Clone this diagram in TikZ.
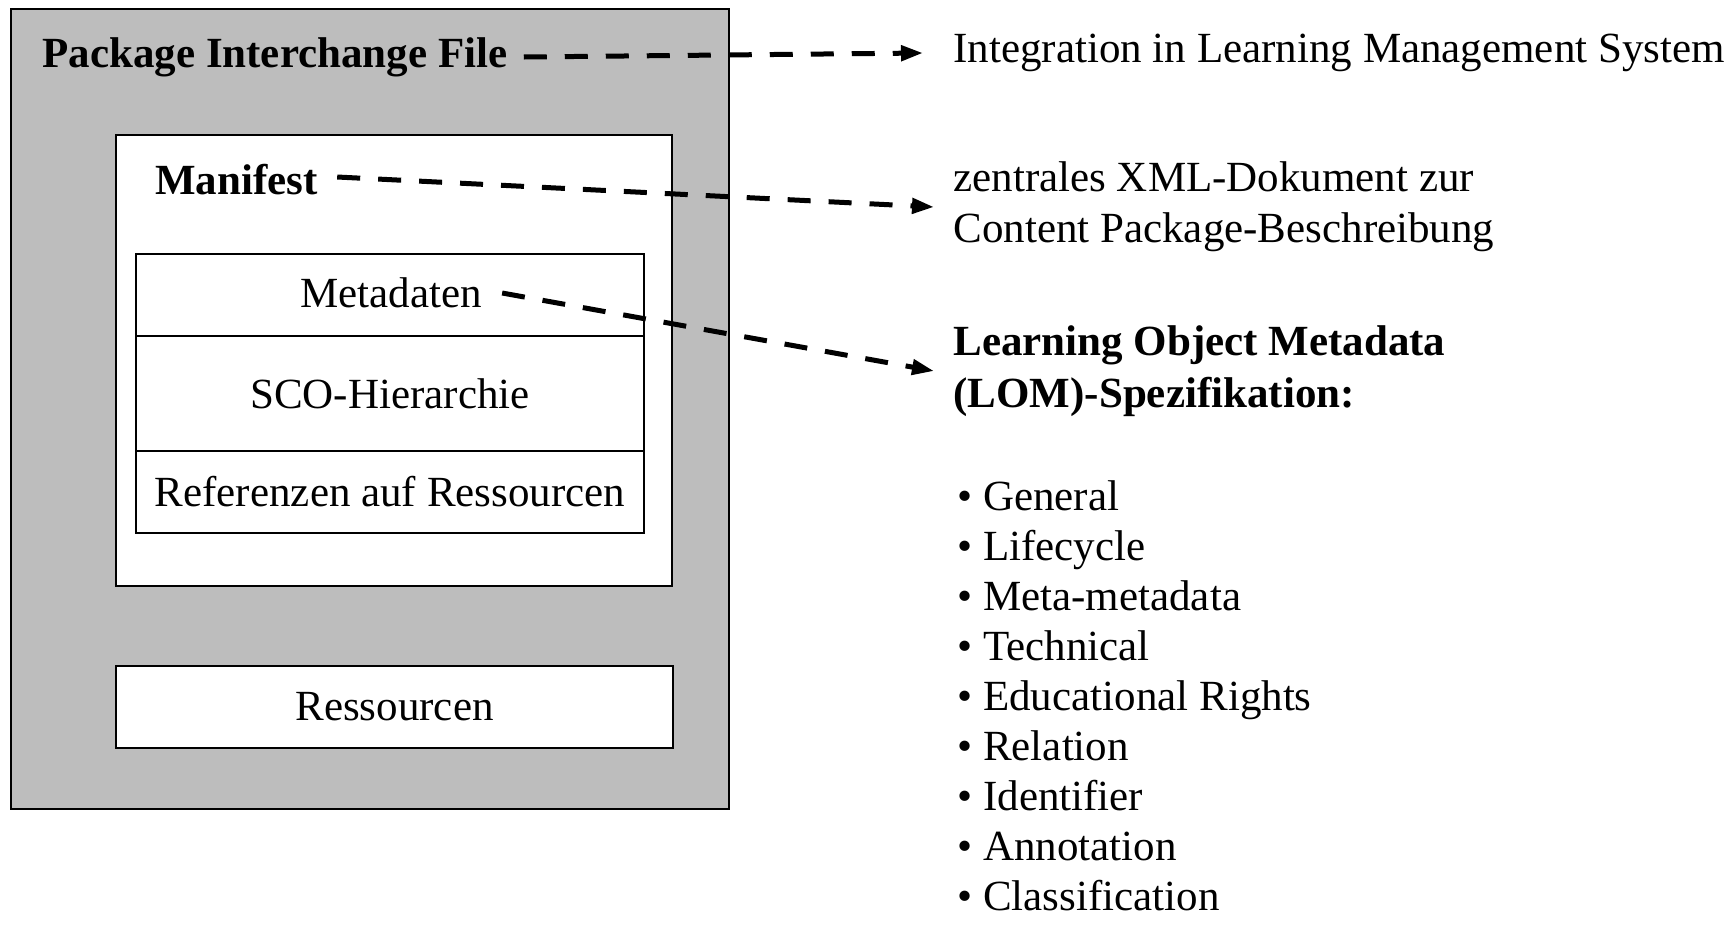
\documentclass[tikz,border=0pt]{standalone}
\usepackage{fontspec}
\setmainfont{Liberation Serif}
\usetikzlibrary{arrows.meta}
\definecolor{bggray}{gray}{0.74}
\tikzset{
  txt/.style={inner sep=0pt, font=\fontsize{21.5}{25.7}\selectfont},
  boxed/.style={draw=black, line width=1pt, fill=white, inner sep=0pt},
  dasharrow/.style={line width=2.5pt, dash pattern=on 11.5pt off 9pt,
    -{Triangle[length=11pt,width=7.5pt]}},
}
\begin{document}
\begin{tikzpicture}[x=0.5pt,y=-0.5pt]
\useasboundingbox (0,0) rectangle (1733,927);
% outer package box
\node[boxed, fill=bggray, minimum width=359pt, minimum height=400pt] (outer) at (370,409) {};
% manifest box
\node[boxed, minimum width=278pt, minimum height=225.5pt] (manbox) at (394,360.5) {};
% table rows
\node[boxed, txt, minimum width=254pt, minimum height=41pt] (meta) at (390,295) {};
\node[boxed, txt, minimum width=254pt, minimum height=57.5pt] (sco) at (390,393.5) {SCO-Hierarchie};
\node[boxed, txt, minimum width=254pt, minimum height=41pt] (refs) at (390,492) {Referenzen auf Ressourcen};
\node[txt] (metatxt) at (391,293) {Metadaten};
% resources box
\node[boxed, txt, minimum width=278.5pt, minimum height=41pt] (res) at (394.5,707) {Ressourcen};
% left labels
\node[txt, anchor=west, font=\fontsize{21.5}{25.7}\selectfont\bfseries] (pif) at (42,57) {Package Interchange File};
\node[txt, anchor=west, font=\fontsize{21.5}{25.7}\selectfont\bfseries] (manifest) at (155,180) {Manifest};
% right labels
\node[txt, anchor=west] (integ) at (953,53) {Integration in Learning Management System};
\node[txt, anchor=west, align=left] (zentral) at (953,207) {zentrales XML-Dokument zur\\Content Package-Beschreibung};
\node[txt, anchor=west, align=left, font=\fontsize{21.5}{25.7}\selectfont\bfseries] (lom) at (953,371) {Learning Object Metadata\\(LOM)-Spezifikation:};
\node[txt, anchor=west, align=left, font=\fontsize{21.5}{25}\selectfont] (list) at (957,696) {%
• General\\
• Lifecycle\\
• Meta-metadata\\
• Technical\\
• Educational Rights\\
• Relation\\
• Identifier\\
• Annotation\\
• Classification};
% arrows
\draw[dasharrow] ([xshift=8pt]pif.east) -- ([xshift=-15pt]integ.west);
\draw[dasharrow] ([xshift=9.5pt,yshift=1.5pt]manifest.east) -- ([xshift=-9.5pt]zentral.west);
\draw[dasharrow] ([xshift=10pt]metatxt.east) -- ([xshift=-9.5pt]lom.west);
\end{tikzpicture}
\end{document}
